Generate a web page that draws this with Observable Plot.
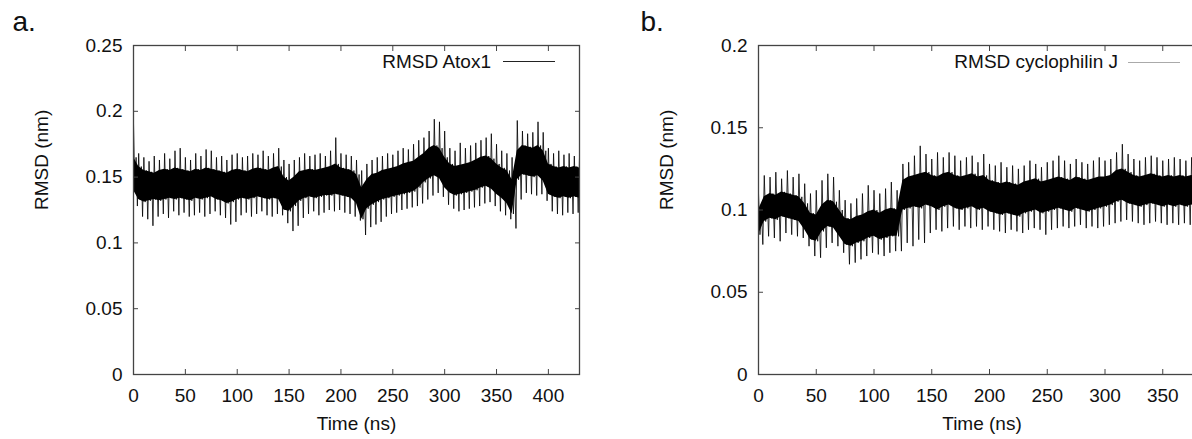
<!DOCTYPE html>
<html>
<head>
<meta charset="utf-8">
<script src="https://cdn.jsdelivr.net/npm/d3@7"></script>
<script src="https://cdn.jsdelivr.net/npm/@observablehq/plot@0.6"></script>
<style>
  html, body { margin: 0; padding: 0; background: #fff; }
  #wrap { position: relative; width: 1192px; height: 439px; overflow: hidden; background: #fff;
          font-family: "Liberation Sans", Arial, Helvetica, sans-serif; color: #111; }
  .panel { position: absolute; top: 0; }
  .panel svg { max-width: none !important; display: block; }
  .lg { position: absolute; font-size: 19px; line-height: 1; white-space: nowrap; color: #111; }
  .lgline { position: absolute; height: 1px; }
</style>
</head>
<body>
<div id="wrap">
  <div id="pa" class="panel" style="left:0px; width:600px"></div>
  <div id="pb" class="panel" style="left:600px; width:626px"></div>
  <div class="lg" style="right:701px; top:52px;">RMSD Atox1</div>
  <div class="lgline" style="left:503px; width:52px; top:61px; background:#222;"></div>
  <div class="lg" style="right:74px; top:52px;">RMSD cyclophilin J</div>
  <div class="lgline" style="left:1128px; width:52px; top:62px; background:#aaa;"></div>
</div>
<script>
// ---------- Panel a: RMSD Atox1 ----------
const tA = [0,5,10,15,20,25,30,35,40,45,50,55,60,65,70,75,80,85,90,95,100,105,110,115,120,125,130,135,140,145,150,155,160,165,170,175,180,185,190,195,200,205,210,215,220,225,230,235,240,245,250,255,260,265,270,275,280,285,290,295,300,305,310,315,320,325,330,335,340,345,350,355,360,365,370,375,380,385,390,395,400,405,410,415,420,425,430];
const coreHiA = [0.165,0.158,0.155,0.154,0.153,0.155,0.156,0.155,0.157,0.156,0.155,0.154,0.156,0.155,0.157,0.156,0.155,0.154,0.153,0.155,0.156,0.155,0.154,0.156,0.157,0.156,0.155,0.157,0.158,0.150,0.147,0.150,0.154,0.155,0.156,0.155,0.156,0.157,0.158,0.160,0.157,0.156,0.155,0.152,0.142,0.148,0.152,0.153,0.155,0.156,0.157,0.158,0.160,0.161,0.162,0.165,0.168,0.172,0.174,0.172,0.165,0.160,0.158,0.159,0.160,0.161,0.163,0.165,0.166,0.164,0.160,0.157,0.155,0.148,0.170,0.174,0.173,0.172,0.174,0.170,0.160,0.158,0.157,0.158,0.157,0.158,0.157];
const coreLoA = [0.140,0.133,0.131,0.132,0.133,0.132,0.133,0.134,0.133,0.134,0.133,0.132,0.134,0.133,0.134,0.135,0.133,0.132,0.130,0.131,0.133,0.134,0.133,0.134,0.135,0.134,0.133,0.134,0.133,0.125,0.124,0.128,0.132,0.134,0.135,0.134,0.135,0.136,0.136,0.137,0.136,0.135,0.134,0.130,0.118,0.126,0.129,0.131,0.133,0.134,0.135,0.136,0.137,0.138,0.139,0.142,0.146,0.149,0.151,0.149,0.142,0.138,0.136,0.137,0.138,0.139,0.140,0.142,0.143,0.141,0.137,0.134,0.130,0.122,0.148,0.152,0.151,0.150,0.151,0.147,0.137,0.135,0.134,0.135,0.134,0.135,0.134];
const hiA = [0.191,0.168,0.165,0.162,0.166,0.163,0.168,0.164,0.170,0.172,0.165,0.163,0.168,0.166,0.171,0.170,0.165,0.166,0.163,0.167,0.168,0.165,0.166,0.168,0.167,0.170,0.166,0.168,0.172,0.163,0.160,0.163,0.165,0.168,0.166,0.167,0.168,0.166,0.170,0.180,0.168,0.167,0.166,0.163,0.155,0.160,0.163,0.165,0.166,0.168,0.167,0.170,0.172,0.171,0.175,0.178,0.180,0.185,0.194,0.192,0.185,0.172,0.170,0.176,0.172,0.174,0.176,0.178,0.180,0.183,0.175,0.170,0.168,0.165,0.193,0.185,0.183,0.184,0.192,0.184,0.172,0.168,0.170,0.167,0.168,0.166,0.165];
const loA = [0.128,0.120,0.118,0.113,0.120,0.122,0.119,0.124,0.121,0.123,0.120,0.121,0.123,0.120,0.122,0.124,0.121,0.119,0.114,0.116,0.121,0.123,0.120,0.122,0.124,0.121,0.120,0.122,0.121,0.115,0.109,0.113,0.119,0.122,0.124,0.121,0.123,0.125,0.124,0.125,0.123,0.122,0.120,0.117,0.106,0.112,0.114,0.116,0.120,0.122,0.123,0.125,0.126,0.127,0.128,0.130,0.133,0.136,0.138,0.135,0.129,0.126,0.124,0.125,0.126,0.127,0.128,0.130,0.131,0.128,0.124,0.121,0.118,0.111,0.133,0.138,0.137,0.136,0.137,0.132,0.124,0.122,0.121,0.123,0.122,0.123,0.121];
const xTicksA = [0,50,100,150,200,250,300,350,400];
const yTicksA = [0,0.05,0.1,0.15,0.2,0.25];

// ---------- Panel b: RMSD cyclophilin J ----------
const tB = [0,5,10,15,20,25,30,35,40,45,50,55,60,65,70,75,80,85,90,95,100,105,110,115,120,125,130,135,140,145,150,155,160,165,170,175,180,185,190,195,200,205,210,215,220,225,230,235,240,245,250,255,260,265,270,275,280,285,290,295,300,305,310,315,320,325,330,335,340,345,350,355,360,365,370,375,380,385];
const coreHiB = [0.100,0.108,0.110,0.109,0.111,0.110,0.109,0.108,0.104,0.098,0.097,0.103,0.106,0.105,0.100,0.095,0.094,0.096,0.097,0.099,0.100,0.098,0.100,0.101,0.100,0.118,0.120,0.121,0.122,0.123,0.121,0.120,0.122,0.123,0.121,0.120,0.121,0.122,0.120,0.121,0.118,0.117,0.116,0.117,0.116,0.115,0.117,0.118,0.119,0.117,0.118,0.119,0.120,0.119,0.118,0.120,0.119,0.118,0.119,0.120,0.120,0.121,0.124,0.125,0.123,0.121,0.120,0.121,0.122,0.121,0.120,0.121,0.120,0.121,0.120,0.121,0.120,0.121];
const coreLoB = [0.085,0.093,0.095,0.094,0.096,0.095,0.094,0.093,0.088,0.082,0.081,0.087,0.090,0.089,0.084,0.079,0.078,0.080,0.081,0.083,0.084,0.082,0.083,0.084,0.084,0.100,0.101,0.102,0.101,0.103,0.102,0.100,0.102,0.103,0.101,0.100,0.101,0.102,0.100,0.101,0.099,0.098,0.097,0.098,0.097,0.096,0.098,0.099,0.100,0.098,0.099,0.100,0.101,0.100,0.099,0.101,0.100,0.099,0.100,0.101,0.102,0.103,0.105,0.106,0.104,0.103,0.102,0.103,0.104,0.103,0.102,0.103,0.102,0.103,0.102,0.103,0.102,0.103];
const hiB = [0.110,0.121,0.120,0.123,0.119,0.124,0.120,0.122,0.116,0.110,0.112,0.118,0.122,0.120,0.112,0.106,0.104,0.107,0.110,0.115,0.112,0.110,0.113,0.117,0.112,0.128,0.129,0.133,0.139,0.134,0.131,0.135,0.132,0.135,0.133,0.130,0.132,0.133,0.129,0.134,0.128,0.127,0.129,0.126,0.127,0.125,0.127,0.130,0.128,0.126,0.129,0.130,0.133,0.130,0.128,0.131,0.129,0.128,0.130,0.132,0.130,0.131,0.135,0.140,0.134,0.131,0.130,0.132,0.133,0.132,0.130,0.131,0.132,0.131,0.130,0.132,0.130,0.131];
const loB = [0.079,0.084,0.083,0.081,0.086,0.085,0.084,0.083,0.078,0.072,0.071,0.077,0.080,0.078,0.074,0.067,0.068,0.070,0.072,0.074,0.073,0.072,0.074,0.075,0.075,0.080,0.078,0.082,0.080,0.086,0.088,0.087,0.089,0.090,0.088,0.090,0.089,0.090,0.088,0.090,0.088,0.087,0.086,0.088,0.087,0.086,0.088,0.089,0.088,0.085,0.088,0.089,0.090,0.089,0.090,0.091,0.089,0.090,0.089,0.090,0.091,0.092,0.093,0.094,0.093,0.092,0.091,0.092,0.093,0.092,0.091,0.092,0.091,0.092,0.091,0.092,0.091,0.092];
const xTicksB = [0,50,100,150,200,250,300,350];
const yTicksB = [0,0.05,0.1,0.15,0.2];

const FONT = '"Liberation Sans", Arial, Helvetica, sans-serif';

function table(t, lo, cLo, cHi, hi) {
  return t.map((v, i) => ({t: v, lo: lo[i], cLo: cLo[i], cHi: cHi[i], hi: hi[i]}));
}
// trace each 5-ns reading as: spike max -> core low -> core high -> spike min
function trace(rows) {
  return rows.flatMap(d => [
    {t: d.t, v: d.hi}, {t: d.t + 1.25, v: d.cLo}, {t: d.t + 2.5, v: d.cHi}, {t: d.t + 3.75, v: d.lo}
  ]);
}

function panel({data, xDomain, yDomain, xTicks, yTicks, width, marginLeft, tag, tagDx}) {
  return Plot.plot({
    width, height: 439,
    marginLeft, marginRight: 21, marginTop: 45, marginBottom: 65,
    style: {fontFamily: FONT, fontSize: "19px", color: "#111", background: "#fff"},
    x: {domain: xDomain},
    y: {domain: yDomain},
    marks: [
      Plot.areaY(data, {x: "t", y1: "cLo", y2: "cHi", fill: "#000", clip: true}),
      Plot.line(trace(data), {x: "t", y: "v", stroke: "#000", strokeWidth: 0.8, clip: true}),
      Plot.frame({stroke: "#444", strokeWidth: 1.3}),
      Plot.axisX(xTicks, {anchor: "bottom", tickSize: -5, fill: "none", stroke: "#444", label: null}),
      Plot.axisX(xTicks, {anchor: "top", tickSize: -5, fill: "none", stroke: "#444", label: null}),
      Plot.axisY(yTicks, {anchor: "left", tickSize: -5, fill: "none", stroke: "#444", label: null}),
      Plot.axisY(yTicks, {anchor: "right", tickSize: -5, fill: "none", stroke: "#444", label: null}),
      Plot.axisX(xTicks, {anchor: "bottom", tickSize: 0, tickPadding: 14, label: null, tickFormat: d => String(d), fontSize: 19}),
      Plot.axisY(yTicks, {anchor: "left", tickSize: 0, tickPadding: 11, label: null, tickFormat: d => String(d), fontSize: 19}),
      Plot.text(["Time (ns)"], {text: d => d, frameAnchor: "bottom", dy: 55, fontSize: 19}),
      Plot.text(["RMSD (nm)"], {text: d => d, frameAnchor: "left", rotate: -90, dx: -92, fontSize: 19}),
      Plot.text([tag], {text: d => d, frameAnchor: "top-left", textAnchor: "start", dx: tagDx, dy: -34, fontSize: 28})
    ]
  });
}

document.getElementById("pa").appendChild(panel({
  data: table(tA, loA, coreLoA, coreHiA, hiA),
  xDomain: [0, 430], yDomain: [0, 0.25],
  xTicks: xTicksA, yTicks: yTicksA,
  width: 600, marginLeft: 133, tag: "a.", tagDx: -121
}));
document.getElementById("pb").appendChild(panel({
  data: table(tB, loB, coreLoB, coreHiB, hiB),
  xDomain: [0, 387], yDomain: [0, 0.2],
  xTicks: xTicksB, yTicks: yTicksB,
  width: 626, marginLeft: 158, tag: "b.", tagDx: -118
}));
</script>
</body>
</html>
